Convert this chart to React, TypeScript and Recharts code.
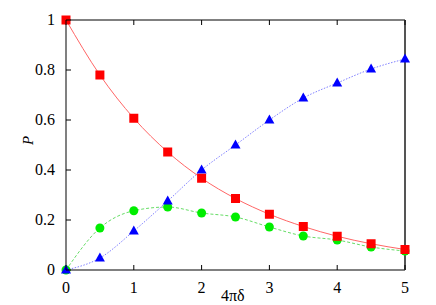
import { ComposedChart, Line, XAxis, YAxis } from "recharts";

const xValues = [0, 0.5, 1, 1.5, 2, 2.5, 3, 3.5, 4, 4.5, 5];
const redValues = [1.0, 0.78, 0.607, 0.472, 0.367, 0.286, 0.223, 0.174, 0.135, 0.105, 0.082];
const blueValues = [0, 0.048, 0.156, 0.276, 0.4, 0.5, 0.6, 0.688, 0.748, 0.804, 0.844];
const greenValues = [0, 0.168, 0.237, 0.252, 0.228, 0.212, 0.172, 0.136, 0.12, 0.092, 0.076];

const xTicks = [0, 1, 2, 3, 4, 5];
const yTicks = [0, 0.2, 0.4, 0.6, 0.8, 1];

const data = xValues.map((x, i) => ({
  x,
  red: redValues[i],
  blue: blueValues[i],
  green: greenValues[i],
}));

const FONT = "'Liberation Serif', 'DejaVu Serif', serif";

const BottomTick = (props: any) => {
  const { x, y, payload } = props;
  return (
    <g>
      <line x1={x} y1={y} x2={x} y2={y - 5} stroke="#000" strokeWidth={1} />
      <text x={x} y={y + 23} textAnchor="middle" fontFamily={FONT} fontSize={16} fill="#000">
        {payload.value}
      </text>
    </g>
  );
};

const TopTick = (props: any) => {
  const { x, y } = props;
  return <line x1={x} y1={y} x2={x} y2={y + 5} stroke="#000" strokeWidth={1} />;
};

const LeftTick = (props: any) => {
  const { x, y, payload } = props;
  return (
    <g>
      <line x1={x} y1={y} x2={x + 5} y2={y} stroke="#000" strokeWidth={1} />
      <text x={x - 11} y={y + 5} textAnchor="end" fontFamily={FONT} fontSize={16} fill="#000">
        {payload.value}
      </text>
    </g>
  );
};

const RightTick = (props: any) => {
  const { x, y } = props;
  return <line x1={x} y1={y} x2={x - 5} y2={y} stroke="#000" strokeWidth={1} />;
};

const Square = (props: any) => {
  const { cx, cy } = props;
  if (cx == null || cy == null) return null;
  return <rect x={cx - 4.5} y={cy - 4.5} width={9} height={9} fill="#ff0000" />;
};

const Triangle = (props: any) => {
  const { cx, cy } = props;
  if (cx == null || cy == null) return null;
  return (
    <polygon
      points={`${cx},${cy - 5.5} ${cx - 5},${cy + 3.5} ${cx + 5},${cy + 3.5}`}
      fill="#0000ff"
    />
  );
};

const Circle = (props: any) => {
  const { cx, cy } = props;
  if (cx == null || cy == null) return null;
  return <circle cx={cx} cy={cy} r={4.5} fill="#00ee00" />;
};

export default function App() {
  return (
    <div style={{ position: "absolute", left: 0, top: 0, width: 436, height: 305, background: "#fff" }}>
      <ComposedChart
        width={436}
        height={305}
        data={data}
        margin={{ top: 0, right: 11, bottom: 5, left: 6 }}
      >
        <XAxis
          dataKey="x"
          type="number"
          domain={[0, 5]}
          ticks={xTicks}
          xAxisId="bottom"
          height={30}
          tickSize={0}
          tickMargin={0}
          tick={<BottomTick />}
          axisLine={{ stroke: "#808080", strokeWidth: 2 }}
          tickLine={false}
        />
        <XAxis
          dataKey="x"
          type="number"
          domain={[0, 5]}
          ticks={xTicks}
          xAxisId="top"
          orientation="top"
          height={20}
          tickSize={0}
          tickMargin={0}
          tick={<TopTick />}
          axisLine={{ stroke: "#000", strokeWidth: 1 }}
          tickLine={false}
        />
        <YAxis
          type="number"
          domain={[0, 1]}
          ticks={yTicks}
          yAxisId="left"
          width={60}
          tickSize={0}
          tickMargin={0}
          tick={<LeftTick />}
          axisLine={{ stroke: "#808080", strokeWidth: 2 }}
          tickLine={false}
          label={{
            value: "P",
            angle: -90,
            position: "insideLeft",
            offset: 22,
            style: { fontFamily: FONT, fontSize: 15, fontStyle: "italic", fill: "#000" },
          }}
        />
        <YAxis
          type="number"
          domain={[0, 1]}
          ticks={yTicks}
          yAxisId="right"
          orientation="right"
          width={20}
          tickSize={0}
          tickMargin={0}
          tick={<RightTick />}
          axisLine={{ stroke: "#555", strokeWidth: 2 }}
          tickLine={false}
        />
        <Line
          xAxisId="bottom"
          yAxisId="left"
          dataKey="green"
          type="monotone"
          stroke="#66dd66"
          strokeWidth={1}
          strokeDasharray="3 2"
          dot={<Circle />}
          activeDot={false}
          isAnimationActive={false}
        />
        <Line
          xAxisId="bottom"
          yAxisId="left"
          dataKey="blue"
          type="monotone"
          stroke="#8080ff"
          strokeWidth={1}
          strokeDasharray="1.5 1.5"
          dot={<Triangle />}
          activeDot={false}
          isAnimationActive={false}
        />
        <Line
          xAxisId="bottom"
          yAxisId="left"
          dataKey="red"
          type="monotone"
          stroke="#ff6666"
          strokeWidth={1}
          dot={<Square />}
          activeDot={false}
          isAnimationActive={false}
        />
      </ComposedChart>
      <div
        style={{
          position: "absolute",
          left: 221,
          top: 288,
          fontFamily: FONT,
          fontSize: 16,
          lineHeight: "16px",
          whiteSpace: "nowrap",
        }}
      >
        4πδ
      </div>
    </div>
  );
}
